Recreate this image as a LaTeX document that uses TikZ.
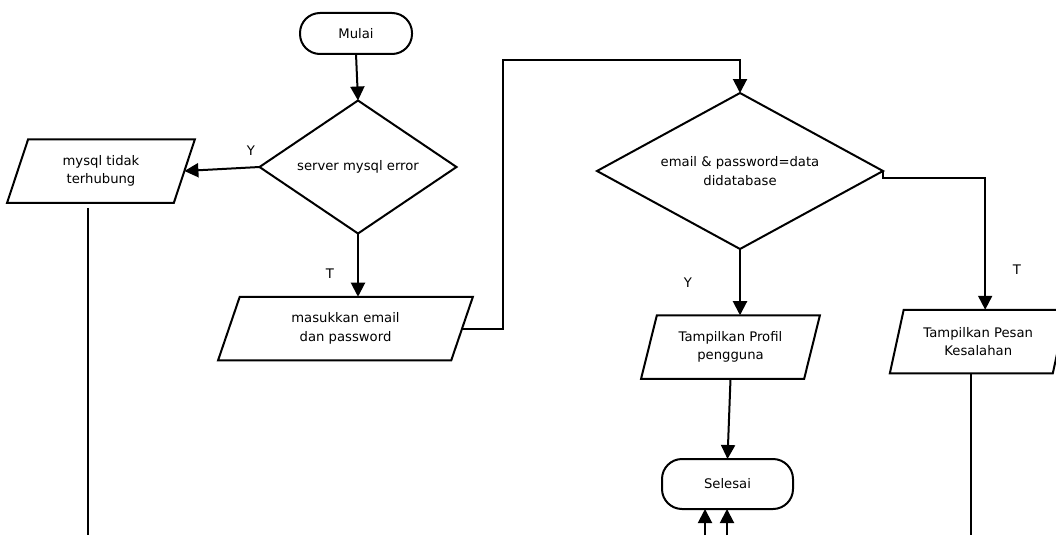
\documentclass[tikz,border=0pt]{standalone}
\usepackage{fontspec}
\setmainfont{DejaVu Sans}
\usetikzlibrary{shapes.geometric,arrows.meta}
\begin{document}
\begin{tikzpicture}[x=1pt,y=-1pt,
  every node/.style={font=\fontsize{13.2}{18.5}\selectfont, text=black},
  line/.style={draw=black, line width=2pt},
  arrow/.style={line, -{Triangle[length=14pt,width=14pt]}},
  terminal/.style={draw, line width=2pt, rectangle, rounded corners=20pt,
    inner sep=0pt, outer sep=0pt},
  decision/.style={draw, line width=2pt, diamond, inner sep=0pt,
    outer sep=0pt, align=center},
  io/.style={draw, line width=2pt, trapezium, trapezium left angle=70.5,
    trapezium right angle=109.5, trapezium stretches=true, inner sep=0pt,
    outer sep=0pt, align=center, minimum height=63.5pt},
  lbl/.style={inner sep=0pt}
]
\useasboundingbox (0,0) rectangle (1056,535);

% process nodes
\node[terminal, minimum width=112pt, minimum height=41pt] (mulai) at (356,33.5) {Mulai};
\node[decision, aspect=1.48, minimum width=197pt, minimum height=133pt] (d1) at (358,167) {server mysql error};
\node[io, minimum width=188pt] (io1) at (101,171) {mysql tidak\\terhubung};
\node[io, minimum width=255pt] (io2) at (345.5,328.5) {masukkan email\\dan password};
\node[decision, aspect=1.83, minimum width=286pt, minimum height=156pt] (d2) at (740,171) {email \& password=data\\didatabase};
\node[io, minimum width=179pt] (io3) at (730.5,347) {Tampilkan Profil\\pengguna};
\node[io, minimum width=177pt] (io4) at (978.25,341.5) {Tampilkan Pesan\\Kesalahan};
\node[terminal, minimum width=131pt, minimum height=50pt] (sel) at (727.5,484) {Selesai};

% branch labels
\node[lbl] (ly1) at (251,151) {Y};
\node[lbl] (lt1) at (330,274) {T};
\node[lbl] (ly2) at (688,283) {Y};
\node[lbl] (lt2) at (1017,270) {T};

% routing points
\coordinate (jt) at (503,60);
\coordinate (e1) at (88,535);
\coordinate (e4) at (967,535);
\coordinate (s1) at (705,535);
\coordinate (s2) at (727,535);

% connectors
\draw[arrow] (mulai.south) -- (d1.north);
\draw[arrow] (d1.west) -- (io1.right side);
\draw[arrow] (d1.south) -- (d1.south |- io2.north);
\draw[arrow] (io2.right side) -| (jt) -| (d2.north);
\draw[arrow] (d2.south) -- (d2.south |- io3.north);
\draw[arrow] (d2.east) -- ++(0,7) -| (io4.top side);
\draw[arrow] (io3.center |- io3.south) -- (sel.north);
\draw[line] ([yshift=-5pt]io1.south -| e1) -- (e1);
\draw[line] (io4.bottom side) -- (io4.bottom side |- e4);
\draw[arrow] (s1) -- (s1 |- sel.south);
\draw[arrow] (s2) -- (s2 |- sel.south);
\end{tikzpicture}
\end{document}
